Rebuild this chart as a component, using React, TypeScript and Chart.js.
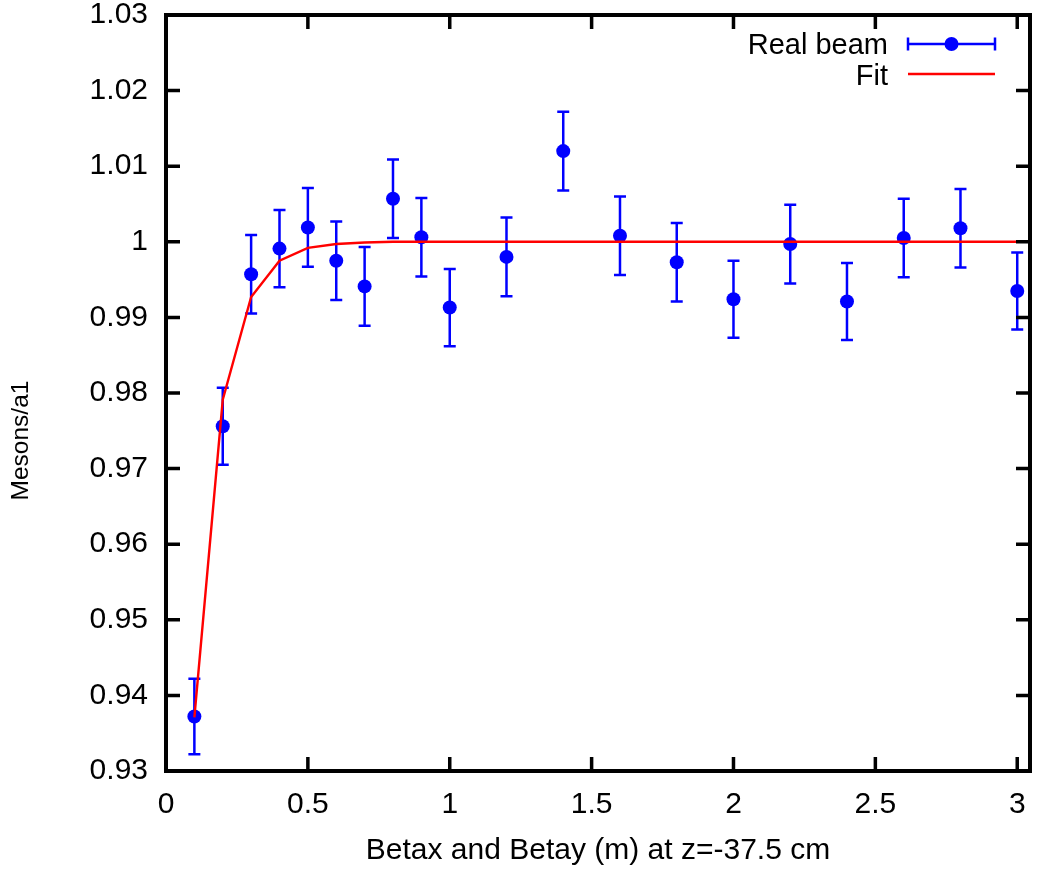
import React, { useEffect, useRef } from 'react';
import { Chart, registerables } from 'chart.js';

Chart.register(...registerables);

// ---- Data ----
const xValues = [0.1, 0.2, 0.3, 0.4, 0.5, 0.6, 0.7, 0.8, 0.9, 1.0, 1.2, 1.4, 1.6, 1.8, 2.0, 2.2, 2.4, 2.6, 2.8, 3.0];
const yValues = [0.9372, 0.9756, 0.9957, 0.9991, 1.0019, 0.9975, 0.9941, 1.0057, 1.0006, 0.9913, 0.998, 1.012, 1.0008, 0.9973, 0.9924, 0.9997, 0.9921, 1.0005, 1.0018, 0.9935];
const yErrors = [0.005, 0.0051, 0.0052, 0.0051, 0.0052, 0.0052, 0.0052, 0.0052, 0.0052, 0.0051, 0.0052, 0.0052, 0.0052, 0.0052, 0.0051, 0.0052, 0.0051, 0.0052, 0.0052, 0.0051];
const fitX = [0.1, 0.2, 0.3, 0.4, 0.5, 0.6, 0.7, 0.8, 0.9, 1.0, 1.2, 1.4, 1.6, 1.8, 2.0, 2.2, 2.4, 2.6, 2.8, 3.0, 3.1];
const fitY = [0.9371, 0.9791, 0.9927, 0.9975, 0.9992, 0.9997, 0.9999, 1.0, 1.0, 1.0, 1.0, 1.0, 1.0, 1.0, 1.0, 1.0, 1.0, 1.0, 1.0, 1.0, 1.0];
const xTicks = [0, 0.5, 1, 1.5, 2, 2.5, 3];
const xTickLabels = ['0', '0.5', '1', '1.5', '2', '2.5', '3'];
const yTicks = [0.93, 0.94, 0.95, 0.96, 0.97, 0.98, 0.99, 1.0, 1.01, 1.02, 1.03];
const yTickLabels = ['0.93', '0.94', '0.95', '0.96', '0.97', '0.98', '0.99', '1', '1.01', '1.02', '1.03'];
const seriesLabel = 'Real beam';
const fitLabel = 'Fit';
const xTitle = 'Betax and Betay (m) at z=-37.5 cm';
const yTitle = 'Mesons/a1';

const FONT = '"Liberation Sans", Arial, Helvetica, sans-serif';
const BLUE = '#0000ff';
const RED = '#ff0000';

const gnuplotPlugin = {
  id: 'gnuplotFrame',
  beforeDatasetsDraw(chart: any) {
    const { ctx, scales } = chart;
    const xs = scales.x;
    const ys = scales.y;
    ctx.save();
    ctx.strokeStyle = BLUE;
    ctx.lineWidth = 2.5;
    const cap = 6;
    for (let i = 0; i < xValues.length; i++) {
      const px = xs.getPixelForValue(xValues[i]);
      const pt = ys.getPixelForValue(yValues[i] + yErrors[i]);
      const pb = ys.getPixelForValue(yValues[i] - yErrors[i]);
      ctx.beginPath();
      ctx.moveTo(px, pt);
      ctx.lineTo(px, pb);
      ctx.moveTo(px - cap, pt);
      ctx.lineTo(px + cap, pt);
      ctx.moveTo(px - cap, pb);
      ctx.lineTo(px + cap, pb);
      ctx.stroke();
    }
    ctx.restore();
  },
  afterDatasetsDraw(chart: any) {
    const { ctx, scales, chartArea } = chart;
    const { left, right, top, bottom } = chartArea;
    const xs = scales.x;
    const ys = scales.y;
    const tl = 14;
    ctx.save();
    ctx.strokeStyle = '#000';
    ctx.lineWidth = 3.5;
    ctx.beginPath();
    xTicks.forEach((v) => {
      const px = xs.getPixelForValue(v);
      ctx.moveTo(px, bottom);
      ctx.lineTo(px, bottom - tl);
      ctx.moveTo(px, top);
      ctx.lineTo(px, top + tl);
    });
    yTicks.forEach((v) => {
      const py = ys.getPixelForValue(v);
      ctx.moveTo(left, py);
      ctx.lineTo(left + tl, py);
      ctx.moveTo(right, py);
      ctx.lineTo(right - tl, py);
    });
    ctx.stroke();
    ctx.lineWidth = 4;
    ctx.strokeRect(left, top, right - left, bottom - top);

    // y-axis title (gnuplot centres it on the whole canvas height)
    ctx.save();
    ctx.font = `24.5px ${FONT}`;
    ctx.fillStyle = '#000';
    ctx.textAlign = 'center';
    ctx.textBaseline = 'middle';
    ctx.translate(21, chart.height / 2 + 6);
    ctx.rotate(-Math.PI / 2);
    ctx.fillText(yTitle, 0, 0);
    ctx.restore();

    // legend (gnuplot style: text right-aligned, sample to the right)
    const textRight = right - 142;
    const sampleL = right - 122;
    const sampleR = right - 35;
    const row1 = top + 29;
    const row2 = top + 59;
    ctx.font = `29px ${FONT}`;
    ctx.fillStyle = '#000';
    ctx.textAlign = 'right';
    ctx.textBaseline = 'alphabetic';
    ctx.fillText(chart.data.datasets[1].label, textRight, row1 + 10);
    ctx.fillText(chart.data.datasets[0].label, textRight, row2 + 11);

    ctx.strokeStyle = BLUE;
    ctx.lineWidth = 2.5;
    ctx.beginPath();
    ctx.moveTo(sampleL, row1);
    ctx.lineTo(sampleR, row1);
    ctx.moveTo(sampleL, row1 - 6.5);
    ctx.lineTo(sampleL, row1 + 6.5);
    ctx.moveTo(sampleR, row1 - 6.5);
    ctx.lineTo(sampleR, row1 + 6.5);
    ctx.stroke();
    ctx.fillStyle = BLUE;
    ctx.beginPath();
    ctx.arc((sampleL + sampleR) / 2, row1, 7, 0, Math.PI * 2);
    ctx.fill();

    ctx.strokeStyle = RED;
    ctx.lineWidth = 2.4;
    ctx.beginPath();
    ctx.moveTo(sampleL, row2);
    ctx.lineTo(sampleR, row2);
    ctx.stroke();
    ctx.restore();
  },
};

export default function App() {
  const canvasRef = useRef<HTMLCanvasElement | null>(null);

  useEffect(() => {
    const canvas = canvasRef.current;
    if (!canvas) return;
    const chart = new Chart(canvas, {
      type: 'scatter',
      data: {
        datasets: [
          {
            type: 'line',
            label: fitLabel,
            data: fitX.map((x, i) => ({ x, y: fitY[i] })),
            borderColor: RED,
            backgroundColor: RED,
            borderWidth: 2.4,
            pointRadius: 0,
            tension: 0,
            fill: false,
            clip: 0,
            order: 0,
          } as any,
          {
            type: 'scatter',
            label: seriesLabel,
            data: xValues.map((x, i) => ({ x, y: yValues[i] })),
            backgroundColor: BLUE,
            borderColor: BLUE,
            borderWidth: 0,
            pointRadius: 7,
            pointHoverRadius: 7,
            order: 1,
          } as any,
        ],
      },
      options: {
        responsive: false,
        animation: false,
        devicePixelRatio: 1,
        events: [],
        layout: { padding: { top: 15, right: 2, left: 0, bottom: 0 } },
        plugins: {
          legend: { display: false },
          tooltip: { enabled: false },
        },
        scales: {
          x: {
            type: 'linear',
            min: 0,
            max: 3.045,
            afterBuildTicks: (s: any) => {
              s.ticks = xTicks.map((v) => ({ value: v }));
            },
            afterFit: (s: any) => {
              s.height = 98;
              s.paddingLeft = 0;
              s.paddingRight = 0;
            },
            grid: { display: false, drawTicks: false },
            border: { display: false },
            ticks: {
              color: '#000',
              font: { family: FONT, size: 30, lineHeight: 1 },
              padding: 19,
              maxRotation: 0,
              autoSkip: false,
              callback: (_v: any, i: number) => xTickLabels[i],
            },
            title: {
              display: true,
              text: xTitle,
              color: '#000',
              font: { family: FONT, size: 30, lineHeight: 1.2 },
              padding: { top: 0, bottom: 0 },
            },
          },
          y: {
            type: 'linear',
            min: 0.93,
            max: 1.03,
            afterBuildTicks: (s: any) => {
              s.ticks = yTicks.map((v) => ({ value: v }));
            },
            afterFit: (s: any) => {
              s.width = 166;
              s.paddingTop = 0;
              s.paddingBottom = 0;
            },
            grid: { display: false, drawTicks: false },
            border: { display: false },
            ticks: {
              color: '#000',
              font: { family: FONT, size: 30, lineHeight: 1 },
              padding: 18,
              autoSkip: false,
              callback: (_v: any, i: number) => yTickLabels[i],
            },
            title: { display: false },
          },
        },
      } as any,
      plugins: [gnuplotPlugin],
    });
    return () => chart.destroy();
  }, []);

  return (
    <div style={{ position: 'fixed', left: 0, top: 0, width: 1037, height: 869, background: '#fff' }}>
      <canvas ref={canvasRef} width={1037} height={869} style={{ display: 'block' }} />
    </div>
  );
}
